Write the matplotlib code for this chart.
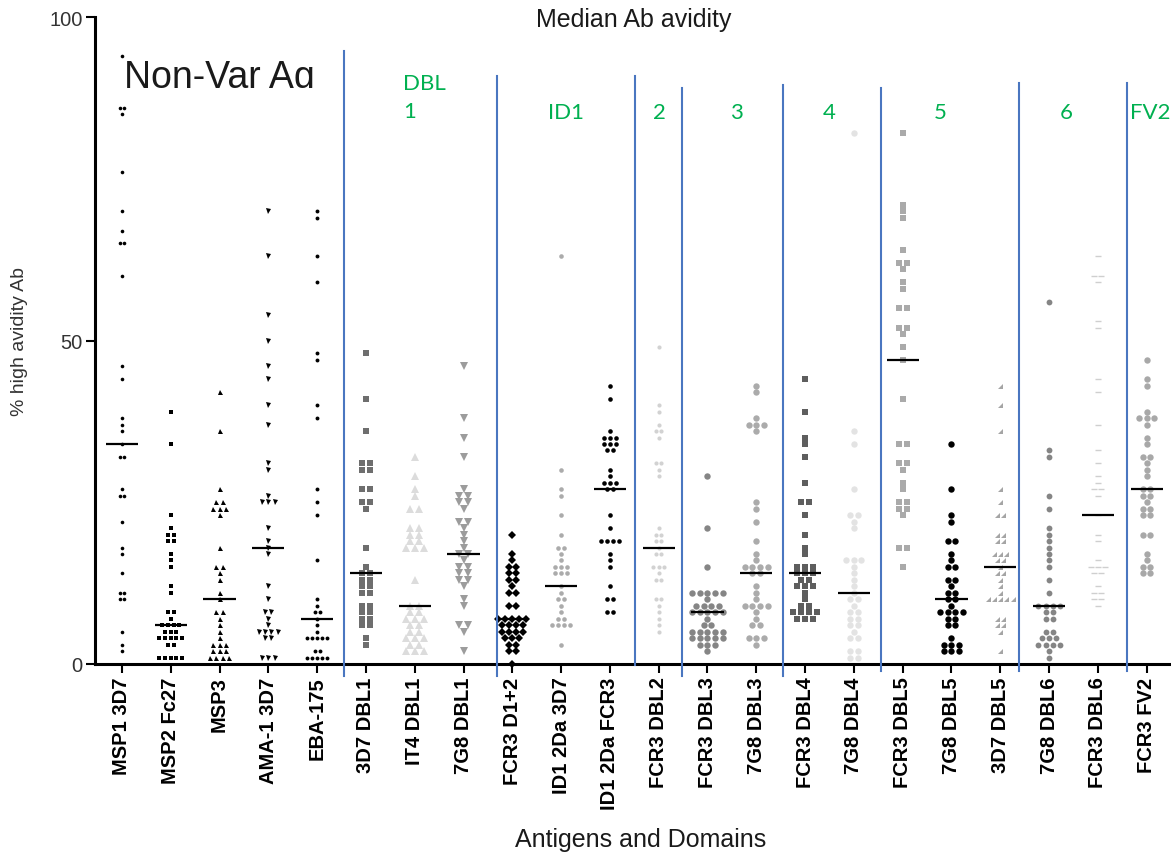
import numpy as np
import matplotlib
import matplotlib.pyplot as plt
from matplotlib.patches import Rectangle

matplotlib.use('Agg')

# Antigens / domains on the x axis
antigens = ["MSP1 3D7", "MSP2 Fc27", "MSP3", "AMA-1 3D7", "EBA-175",
            "3D7 DBL1", "IT4 DBL1", "7G8 DBL1", "FCR3 D1+2", "ID1 2Da 3D7",
            "ID1 2Da FCR3", "FCR3 DBL2", "FCR3 DBL3", "7G8 DBL3", "FCR3 DBL4",
            "7G8 DBL4", "FCR3 DBL5", "7G8 DBL5", "3D7 DBL5", "7G8 DBL6",
            "FCR3 DBL6", "FCR3 FV2"]

# % high avidity Ab per individual
msp1_3d7 = [94, 86, 86, 85, 76, 70, 67, 65, 65, 60, 46, 44, 38, 37, 36, 34, 32, 32,
            27, 26, 26, 22, 18, 17, 14, 11, 11, 10, 10, 5, 3, 2]
msp2_fc27 = [39, 34, 23, 21, 20, 20, 19, 19, 17, 16, 15, 12, 11, 8, 8, 7, 6, 6, 6, 6,
             5, 5, 5, 4, 4, 4, 4, 4, 3, 3, 1, 1, 1, 1, 1]
msp3 = [42, 36, 27, 25, 25, 24, 24, 24, 23, 18, 15, 15, 14, 13, 11, 10, 8, 8, 7, 6,
        5, 4, 3, 3, 3, 2, 2, 2, 1, 1, 1, 1]
ama1_3d7 = [70, 63, 54, 50, 46, 44, 40, 37, 31, 30, 26, 25, 25, 25, 21, 19, 18, 17,
            12, 10, 8, 8, 7, 6, 5, 5, 5, 5, 4, 4, 1, 1, 1]
eba175 = [70, 69, 63, 59, 48, 47, 40, 38, 27, 25, 23, 16, 10, 9, 8, 8, 7, 6, 5,
          4, 4, 4, 4, 4, 2, 2, 1, 1, 1, 1, 1]
dbl1_3d7 = [48, 41, 36, 31, 31, 30, 30, 27, 27, 25, 25, 24, 18, 15, 14, 14, 13, 13,
            12, 12, 11, 11, 9, 9, 8, 8, 7, 7, 6, 6, 4, 3]
dbl1_it4 = [32, 29, 27, 26, 24, 24, 21, 21, 20, 20, 19, 19, 18, 18, 18, 13, 9, 9,
            8, 8, 7, 7, 7, 6, 6, 5, 5, 4, 4, 4, 3, 3, 2, 2, 2]
dbl1_7g8 = [46, 38, 35, 32, 27, 26, 26, 25, 25, 24, 22, 22, 21, 20, 19, 18, 17, 17,
            16, 15, 15, 14, 14, 13, 13, 12, 10, 9, 6, 6, 5, 2]
fcr3_d12 = [20, 17, 16, 15, 15, 14, 14, 13, 13, 12, 11, 11, 9, 9, 7, 7, 7, 7, 7,
            6, 6, 6, 6, 5, 5, 5, 5, 4, 4, 4, 3, 3, 2, 2, 0]
id1_3d7 = [63, 30, 27, 26, 23, 20, 18, 18, 17, 16, 15, 15, 15, 14, 14, 14, 12, 11,
           10, 10, 9, 8, 7, 7, 6, 6, 6, 6, 3]
id1_fcr3 = [43, 41, 36, 35, 35, 35, 34, 34, 34, 33, 33, 30, 29, 28, 28, 28, 27, 27,
            23, 21, 19, 19, 19, 19, 17, 16, 15, 12, 10, 10, 8, 8]
dbl2_fcr3 = [49, 40, 39, 37, 36, 36, 35, 31, 31, 30, 29, 21, 20, 20, 19, 19, 18,
             17, 17, 15, 15, 15, 14, 13, 13, 10, 10, 9, 8, 7, 6, 5]
dbl3_fcr3 = [29, 21, 15, 11, 11, 11, 11, 11, 10, 9, 9, 9, 9, 8, 8, 8, 8, 8, 7, 6, 6,
             5, 5, 5, 5, 5, 4, 4, 4, 4, 4, 3, 3, 3, 2]
dbl3_7g8 = [43, 42, 38, 37, 37, 37, 36, 25, 24, 22, 19, 17, 16, 15, 15, 15, 15, 14,
            14, 12, 11, 10, 9, 9, 9, 9, 8, 7, 6, 6, 4, 4, 4, 3]
dbl4_fcr3 = [44, 39, 35, 34, 32, 28, 25, 25, 23, 20, 18, 17, 15, 15, 15, 14, 14, 14,
             13, 13, 12, 12, 12, 11, 10, 9, 9, 8, 8, 8, 8, 7, 7, 7]
dbl4_7g8 = [82, 36, 34, 27, 23, 23, 22, 21, 16, 16, 16, 15, 14, 13, 12, 11, 10, 10,
            9, 8, 8, 7, 7, 6, 6, 5, 4, 4, 2, 2, 1, 1]
dbl5_fcr3 = [82, 71, 70, 69, 64, 62, 62, 61, 59, 58, 55, 55, 52, 52, 51, 49, 47, 41,
             34, 34, 31, 31, 30, 28, 27, 25, 25, 24, 24, 23, 18, 18, 15]
dbl5_7g8 = [34, 27, 23, 22, 19, 19, 17, 16, 15, 15, 13, 13, 12, 11, 11, 10, 10, 9,
            8, 8, 8, 8, 7, 7, 6, 6, 4, 3, 3, 3, 2, 2, 2]
dbl5_3d7 = [43, 40, 36, 27, 25, 23, 23, 20, 20, 19, 19, 17, 17, 17, 16, 16, 15, 14,
            14, 13, 12, 11, 10, 10, 10, 10, 10, 7, 7, 6, 6, 5, 2]
dbl6_7g8 = [56, 33, 32, 26, 24, 21, 20, 19, 18, 17, 16, 15, 13, 11, 9, 9, 9, 9, 8, 8,
            7, 7, 5, 5, 4, 4, 4, 3, 3, 3, 3, 2, 1]
dbl6_fcr3 = [63, 60, 60, 59, 53, 52, 44, 42, 37, 33, 31, 29, 28, 27, 27, 26, 23, 20,
             19, 16, 15, 15, 15, 14, 14, 12, 11, 11, 10, 10, 9]
fv2_fcr3 = [47, 44, 43, 39, 38, 38, 38, 37, 35, 34, 32, 32, 31, 30, 29, 27, 27, 26,
            26, 25, 24, 24, 23, 23, 20, 20, 17, 16, 15, 15, 14, 14]

medians = [34, 6, 10, 18, 7, 14, 9, 17, 7, 12, 27, 18, 8, 14, 14, 11, 47, 10, 15,
           9, 23, 27]

# domain group labels (green)
groups = ["ID1", "2", "3", "4", "5", "6", "FV2"]

series = [msp1_3d7, msp2_fc27, msp3, ama1_3d7, eba175, dbl1_3d7, dbl1_it4, dbl1_7g8,
          fcr3_d12, id1_3d7, id1_fcr3, dbl2_fcr3, dbl3_fcr3, dbl3_7g8, dbl4_fcr3,
          dbl4_7g8, dbl5_fcr3, dbl5_7g8, dbl5_3d7, dbl6_7g8, dbl6_fcr3, fv2_fcr3]

corner = [(-1, -1), (1, -1), (1, 1), (-1, -1)]
# (marker, colour, size in pt)
styles = [('o', 'black', 2.6), ('s', 'black', 3.2), ('^', 'black', 3.6),
          ('v', 'black', 3.6), ('o', 'black', 2.8), ('s', '#6e6e6e', 5.0),
          ('^', '#dcdcdc', 5.5), ('v', '#9c9c9c', 5.5), ('D', 'black', 4.2),
          ('o', '#ababab', 3.3), ('o', 'black', 3.3), ('o', '#d2d2d2', 3.0),
          ('o', '#858585', 4.6), ('o', '#ababab', 4.6), ('s', '#5e5e5e', 5.0),
          ('o', '#e3e3e3', 4.6), ('s', '#aaaaaa', 5.0), ('o', 'black', 4.6),
          (corner, '#a5a5a5', 3.6), ('o', '#858585', 4.2), ('_', '#cfcfcf', 4.0),
          ('o', '#a8a8a8', 4.6)]

W, H = 1171, 854
fig = plt.figure(figsize=(W / 100, H / 100), dpi=100)
ax = fig.add_axes([95 / W, (H - 665) / H, (W - 95) / W, 647 / H])

px_per_cat = 48.8
for i, (vals, (mk, col, ms)) in enumerate(zip(series, styles)):
    vals = np.array(vals, dtype=float)
    step = (ms / 0.72 + 1.2) / px_per_cat
    xs = np.zeros_like(vals)
    for v in np.unique(vals):
        idx = np.where(vals == v)[0]
        n = len(idx)
        xs[idx] = i + (np.arange(n) - (n - 1) / 2) * step
    ax.plot(xs, vals, linestyle='none', marker=mk, color=col, markersize=ms,
            markeredgewidth=0 if mk != '_' else 1.0, clip_on=False, zorder=3)
    ax.plot([i - 0.33, i + 0.33], [medians[i], medians[i]], color='black', lw=1.6,
            zorder=4, solid_capstyle='butt')

ax.set_xlim(-0.553, 21.5)
ax.set_ylim(0, 100)
ax.set_yticks([0, 50, 100])
ax.set_xticks(range(len(antigens)))
ax.set_xticklabels(antigens, rotation=90, fontsize=14.5, fontweight='bold',
                   family='Liberation Sans')
for lab in ax.get_yticklabels():
    lab.set_fontsize(14.5)
    lab.set_family('Liberation Sans')
    lab.set_color('#333333')
ax.tick_params(axis='both', direction='out', length=6.5, width=1.5, pad=2.5)
for s in ['top', 'right']:
    ax.spines[s].set_visible(False)
for s in ['left', 'bottom']:
    ax.spines[s].set_linewidth(2.2)

# hand-drawn separators between domain groups
seps = [(4.55, 94.7, -1.85), (7.68, 90.9, -1.85), (10.51, 90.9, -0.15),
        (11.48, 89.0, -1.85), (13.55, 89.5, -1.85), (15.55, 89.0, -1.1),
        (18.38, 89.8, -1.1), (20.59, 89.8, -1.1)]
for xv, ytop, ybot in seps:
    ax.plot([xv, xv], [ybot, ytop], color='#4a76c0', lw=1.5, clip_on=False, zorder=5)

green = '#00b050'
fig.text(403 / W, 1 - 98 / H, "DBL\n1", color=green, fontsize=16, family='Lato',
         ha='left', va='center', linespacing=1.45)
for g, xp in zip(groups, [566, 659, 736, 829, 940, 1066, 1150]):
    fig.text(xp / W, 1 - 113 / H, g, color=green, fontsize=16, family='Lato',
             ha='center', va='center')

t = fig.text(124 / W, 1 - 88 / H, "Non-Var Ag", fontsize=27, family='Liberation Sans',
             ha='left', va='baseline', color='#1a1a1a')
clip = Rectangle((100 / W, 1 - 89 / H), 240 / W, 60 / H, transform=fig.transFigure)
t.set_clip_path(clip)

fig.text(634 / W, 1 - 20 / H, "Median Ab avidity", fontsize=18, family='Liberation Sans',
         ha='center', va='center', color='#1a1a1a')
fig.text(20 / W, 1 - 342 / H, "% high avidity Ab", fontsize=14, rotation=90,
         family='Liberation Sans', ha='center', va='center', color='#333333')
fig.text(641 / W, 1 - 840 / H, "Antigens and Domains", fontsize=18,
         family='Liberation Sans', ha='center', va='center', color='#1a1a1a')

fig.savefig('out.png', dpi=100)
